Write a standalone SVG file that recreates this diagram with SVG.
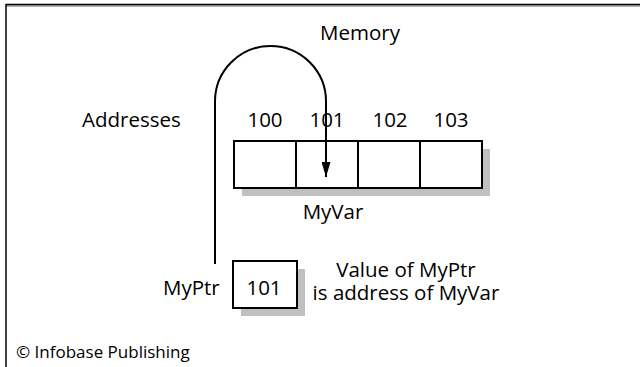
<svg xmlns="http://www.w3.org/2000/svg" width="640" height="367" viewBox="0 0 640 367">
<style>
text{font-family:"Open Sans","Liberation Sans",sans-serif;fill:#000}
.t{font-size:20.5px}
.c{text-anchor:middle}
.box{fill:#fff;stroke:#000;stroke-width:2}
.sh{fill:#c0c0c0}
.ln{fill:none;stroke:#000;stroke-width:2}
</style>
<defs>
<marker id="ah" markerWidth="15" markerHeight="9" refX="15" refY="4.5" orient="auto" markerUnits="userSpaceOnUse" viewBox="0 0 15 9">
<path d="M0,0 L15,4.5 L0,9 Z" fill="#000"/>
</marker>
</defs>
<rect width="640" height="367" fill="#fff"/>
<g id="frame">
<line x1="6" y1="6" x2="640" y2="6" stroke="#999" stroke-width="1.5"/>
<line x1="6" y1="4.5" x2="640" y2="4.5" stroke="#000" stroke-width="1.5"/>
<line x1="6" y1="4" x2="6" y2="367" stroke="#000" stroke-width="1.5"/>
</g>
<g id="title"><text class="t c" x="360" y="40">Memory</text></g>
<g id="addresses"><text class="t" x="82" y="127">Addresses</text></g>
<g id="memory">
<rect class="sh" x="242" y="149" width="248" height="47"/>
<rect class="box" x="234" y="141" width="248" height="47"/>
<line class="ln" x1="296" y1="141" x2="296" y2="188"/>
<line class="ln" x1="358" y1="141" x2="358" y2="188"/>
<line class="ln" x1="420" y1="141" x2="420" y2="188"/>
<text class="t c" x="265" y="127">100</text>
<text class="t c" x="327" y="127">101</text>
<text class="t c" x="390" y="127">102</text>
<text class="t c" x="451" y="127">103</text>
</g>
<g id="myvar"><text class="t c" x="333" y="219">MyVar</text></g>
<g id="myptr">
<text class="t" x="163" y="295">MyPtr</text>
<rect class="sh" x="241" y="269" width="64" height="47"/>
<rect class="box" x="233" y="261" width="64" height="47"/>
<text class="t c" x="264" y="295">101</text>
</g>
<g id="note">
<text class="t c" x="406" y="277">Value of MyPtr</text>
<text class="t c" x="406" y="300">is address of MyVar</text>
</g>
<g id="connectors">
<path class="ln" d="M215,264 V101.5 A55.5,55.5 0 0 1 326,101.5 V177" marker-end="url(#ah)"/>
</g>
<g id="credit"><text x="16" y="358" font-size="17">© Infobase Publishing</text></g>
</svg>
